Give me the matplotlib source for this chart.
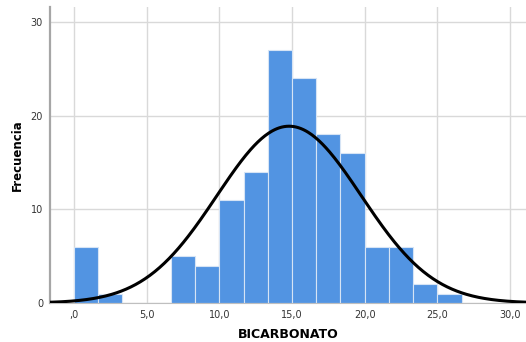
import numpy as np
import matplotlib.pyplot as plt

# Histograma de BICARBONATO con curva normal ajustada
bin_edges = np.arange(0, 17) * (5 / 3)
frecuencias = [6, 1, 0, 0, 5, 4, 11, 14, 27, 24, 18, 16, 6, 6, 2, 1]
media = 14.8
desv = 4.97
n_total = sum(frecuencias)

x_ticks = [0, 5, 10, 15, 20, 25, 30]
x_labels = [',0', '5,0', '10,0', '15,0', '20,0', '25,0', '30,0']
y_ticks = [0, 10, 20, 30]

fig = plt.figure(figsize=(5.26, 3.42), dpi=100)
ax = fig.add_axes([0.095, 0.114, 0.905, 0.866])

ancho = bin_edges[1] - bin_edges[0]
ax.bar(bin_edges[:-1], frecuencias, width=ancho, align='edge',
       color='#5294e2', edgecolor='#d6e4f5', linewidth=0.8, zorder=2)

xs = np.linspace(-1.7, 31.2, 400)
ys = n_total * ancho / (desv * np.sqrt(2 * np.pi)) * np.exp(-0.5 * ((xs - media) / desv) ** 2)
ax.plot(xs, ys, color='black', linewidth=2.2, zorder=3)

ax.set_xlim(-1.65, 31.1)
ax.set_ylim(0, 31.6)
ax.set_xticks(x_ticks)
ax.set_xticklabels(x_labels)
ax.set_yticks(y_ticks)
ax.grid(True, color='#d9d9d9', linewidth=1.0, zorder=0)
ax.set_axisbelow(True)

for lado in ['top', 'right']:
    ax.spines[lado].set_visible(False)
ax.spines['left'].set_color('#a6a6a6')
ax.spines['left'].set_linewidth(1.6)
ax.spines['bottom'].set_color('#bfbfbf')
ax.tick_params(length=0, labelsize=7, colors='#333333', pad=5)

ax.set_xlabel('BICARBONATO', fontsize=9, fontweight='bold', labelpad=6)
ax.set_ylabel('Frecuencia', fontsize=8.5, fontweight='bold', labelpad=5)

plt.savefig('out.png', dpi=100)
